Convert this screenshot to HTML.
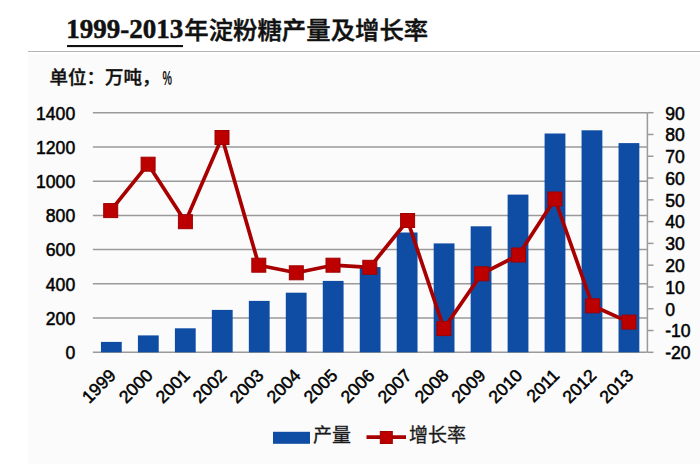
<!DOCTYPE html>
<html><head><meta charset="utf-8"><style>
html,body{margin:0;padding:0;background:#fff;}
body{width:700px;height:468px;overflow:hidden;position:relative;}
.panel{position:absolute;left:28px;top:54px;width:672px;height:409.5px;background:#fbfbfb;}
.hr{position:absolute;left:28px;top:50.8px;width:672px;height:1.4px;background:#b4b4b4;}
.title{position:absolute;left:0;top:0;white-space:nowrap;}
svg{position:absolute;left:0;top:0;}
.g{stroke:#9a9a9a;stroke-width:1.5;fill:none;}
.b{fill:#0f4ca3;}
.ln{stroke:#a80000;stroke-width:3.7;fill:none;stroke-linejoin:round;}
.m{fill:#bc0000;stroke:#a00000;stroke-width:1;}
.ax{font-family:"Liberation Sans",sans-serif;font-size:17.6px;fill:#000;stroke:#000;stroke-width:0.5;}
.lg{font-family:"Liberation Sans","Noto Sans CJK SC",sans-serif;font-size:19px;fill:#1a1a1a;font-weight:400;stroke:#1a1a1a;stroke-width:0.3;}
.tt1{font-family:"Liberation Serif",serif;font-weight:bold;font-size:27px;fill:#111;stroke:#111;stroke-width:0.5;}
.tt2{font-family:"Liberation Sans","Noto Sans CJK SC",sans-serif;font-weight:500;font-size:24.4px;fill:#111;stroke:#111;stroke-width:0.45;}
.unit{font-family:"Liberation Sans","Noto Sans CJK SC",sans-serif;font-weight:500;font-size:18.5px;fill:#111;stroke:#111;stroke-width:0.35;}
.pct{font-family:"Liberation Sans",sans-serif;font-weight:bold;font-size:20.5px;fill:#111;}
</style></head><body>
<div class="panel"></div>
<div class="hr"></div>
<div style="position:absolute;left:35px;top:463.5px;width:665px;height:5px;background:#fff;"></div>
<svg width="700" height="468" viewBox="0 0 700 468">
<text x="66.3" y="38" class="tt1">1999-2013</text>
<text x="184.3" y="38.5" class="tt2">年淀粉糖产量及增长率</text>
<rect x="67" y="45" width="116" height="2.1" fill="#111"/>
<text x="49.5" y="84" class="unit">单位：万吨，</text><text transform="translate(162.5 85) scale(0.52 1)" class="pct">%</text>
<line x1="92.87" y1="352.30" x2="647.4" y2="352.30" class="g"/>
<line x1="92.87" y1="318.07" x2="647.4" y2="318.07" class="g"/>
<line x1="92.87" y1="283.84" x2="647.4" y2="283.84" class="g"/>
<line x1="92.87" y1="249.61" x2="647.4" y2="249.61" class="g"/>
<line x1="92.87" y1="215.39" x2="647.4" y2="215.39" class="g"/>
<line x1="92.87" y1="181.16" x2="647.4" y2="181.16" class="g"/>
<line x1="92.87" y1="146.93" x2="647.4" y2="146.93" class="g"/>
<line x1="92.87" y1="112.70" x2="647.4" y2="112.70" class="g"/>
<line x1="647.4" y1="112.70" x2="647.4" y2="352.30" class="g"/>
<line x1="647.4" y1="112.70" x2="653.5" y2="112.70" class="g"/>
<line x1="647.4" y1="134.48" x2="653.5" y2="134.48" class="g"/>
<line x1="647.4" y1="156.26" x2="653.5" y2="156.26" class="g"/>
<line x1="647.4" y1="178.05" x2="653.5" y2="178.05" class="g"/>
<line x1="647.4" y1="199.83" x2="653.5" y2="199.83" class="g"/>
<line x1="647.4" y1="221.61" x2="653.5" y2="221.61" class="g"/>
<line x1="647.4" y1="243.39" x2="653.5" y2="243.39" class="g"/>
<line x1="647.4" y1="265.17" x2="653.5" y2="265.17" class="g"/>
<line x1="647.4" y1="286.95" x2="653.5" y2="286.95" class="g"/>
<line x1="647.4" y1="308.74" x2="653.5" y2="308.74" class="g"/>
<line x1="647.4" y1="330.52" x2="653.5" y2="330.52" class="g"/>
<line x1="647.4" y1="352.30" x2="653.5" y2="352.30" class="g"/>
<rect x="100.95" y="341.90" width="20.8" height="10.40" class="b"/>
<rect x="137.92" y="335.40" width="20.8" height="16.90" class="b"/>
<rect x="174.90" y="328.30" width="20.8" height="24.00" class="b"/>
<rect x="211.86" y="309.90" width="20.8" height="42.40" class="b"/>
<rect x="248.84" y="300.90" width="20.8" height="51.40" class="b"/>
<rect x="285.81" y="292.70" width="20.8" height="59.60" class="b"/>
<rect x="322.78" y="280.90" width="20.8" height="71.40" class="b"/>
<rect x="359.75" y="267.10" width="20.8" height="85.20" class="b"/>
<rect x="396.72" y="232.50" width="20.8" height="119.80" class="b"/>
<rect x="433.69" y="243.40" width="20.8" height="108.90" class="b"/>
<rect x="470.66" y="226.30" width="20.8" height="126.00" class="b"/>
<rect x="507.62" y="194.60" width="20.8" height="157.70" class="b"/>
<rect x="544.60" y="133.50" width="20.8" height="218.80" class="b"/>
<rect x="581.56" y="130.30" width="20.8" height="222.00" class="b"/>
<rect x="618.53" y="143.10" width="20.8" height="209.20" class="b"/>
<polyline points="110.7,210.6 148.1,164.2 185.4,221.7 222.0,137.5 258.8,265.2 296.3,272.8 333.0,265.2 369.8,267.3 407.6,220.5 443.9,328.6 481.7,273.8 518.5,255.0 554.9,199.0 592.6,305.8 629.0,322.1" class="ln"/>
<rect x="103.7" y="203.6" width="14" height="14" class="m"/>
<rect x="141.1" y="157.2" width="14" height="14" class="m"/>
<rect x="178.4" y="214.7" width="14" height="14" class="m"/>
<rect x="215.0" y="130.5" width="14" height="14" class="m"/>
<rect x="251.8" y="258.2" width="14" height="14" class="m"/>
<rect x="289.3" y="265.8" width="14" height="14" class="m"/>
<rect x="326.0" y="258.2" width="14" height="14" class="m"/>
<rect x="362.8" y="260.3" width="14" height="14" class="m"/>
<rect x="400.6" y="213.5" width="14" height="14" class="m"/>
<rect x="436.9" y="321.6" width="14" height="14" class="m"/>
<rect x="474.7" y="266.8" width="14" height="14" class="m"/>
<rect x="511.5" y="248.0" width="14" height="14" class="m"/>
<rect x="547.9" y="192.0" width="14" height="14" class="m"/>
<rect x="585.6" y="298.8" width="14" height="14" class="m"/>
<rect x="622.0" y="315.1" width="14" height="14" class="m"/>
<text x="75.2" y="359.10" class="ax" text-anchor="end">0</text>
<text x="75.2" y="324.87" class="ax" text-anchor="end">200</text>
<text x="75.2" y="290.64" class="ax" text-anchor="end">400</text>
<text x="75.2" y="256.41" class="ax" text-anchor="end">600</text>
<text x="75.2" y="222.19" class="ax" text-anchor="end">800</text>
<text x="75.2" y="187.96" class="ax" text-anchor="end">1000</text>
<text x="75.2" y="153.73" class="ax" text-anchor="end">1200</text>
<text x="75.2" y="119.50" class="ax" text-anchor="end">1400</text>
<text x="665.2" y="119.50" class="ax">90</text>
<text x="665.2" y="141.28" class="ax">80</text>
<text x="665.2" y="163.06" class="ax">70</text>
<text x="665.2" y="184.85" class="ax">60</text>
<text x="665.2" y="206.63" class="ax">50</text>
<text x="665.2" y="228.41" class="ax">40</text>
<text x="665.2" y="250.19" class="ax">30</text>
<text x="665.2" y="271.97" class="ax">20</text>
<text x="665.2" y="293.75" class="ax">10</text>
<text x="665.2" y="315.54" class="ax">0</text>
<text x="665.2" y="337.32" class="ax">-10</text>
<text x="665.2" y="359.10" class="ax">-20</text>
<text x="116.86" y="376.5" class="ax" text-anchor="end" transform="rotate(-45 116.86 376.5)">1999</text>
<text x="153.82" y="376.5" class="ax" text-anchor="end" transform="rotate(-45 153.82 376.5)">2000</text>
<text x="190.80" y="376.5" class="ax" text-anchor="end" transform="rotate(-45 190.80 376.5)">2001</text>
<text x="227.76" y="376.5" class="ax" text-anchor="end" transform="rotate(-45 227.76 376.5)">2002</text>
<text x="264.74" y="376.5" class="ax" text-anchor="end" transform="rotate(-45 264.74 376.5)">2003</text>
<text x="301.70" y="376.5" class="ax" text-anchor="end" transform="rotate(-45 301.70 376.5)">2004</text>
<text x="338.68" y="376.5" class="ax" text-anchor="end" transform="rotate(-45 338.68 376.5)">2005</text>
<text x="375.64" y="376.5" class="ax" text-anchor="end" transform="rotate(-45 375.64 376.5)">2006</text>
<text x="412.62" y="376.5" class="ax" text-anchor="end" transform="rotate(-45 412.62 376.5)">2007</text>
<text x="449.58" y="376.5" class="ax" text-anchor="end" transform="rotate(-45 449.58 376.5)">2008</text>
<text x="486.56" y="376.5" class="ax" text-anchor="end" transform="rotate(-45 486.56 376.5)">2009</text>
<text x="523.52" y="376.5" class="ax" text-anchor="end" transform="rotate(-45 523.52 376.5)">2010</text>
<text x="560.50" y="376.5" class="ax" text-anchor="end" transform="rotate(-45 560.50 376.5)">2011</text>
<text x="597.46" y="376.5" class="ax" text-anchor="end" transform="rotate(-45 597.46 376.5)">2012</text>
<text x="634.43" y="376.5" class="ax" text-anchor="end" transform="rotate(-45 634.43 376.5)">2013</text>
<rect x="273" y="431.8" width="37" height="12" class="b"/>
<text x="313" y="441.8" class="lg">产量</text>
<line x1="366.5" y1="437.2" x2="406" y2="437.2" class="ln"/>
<rect x="380.3" y="431.5" width="12" height="12" class="m"/>
<text x="409" y="441.8" class="lg">增长率</text>
</svg>
</body></html>
